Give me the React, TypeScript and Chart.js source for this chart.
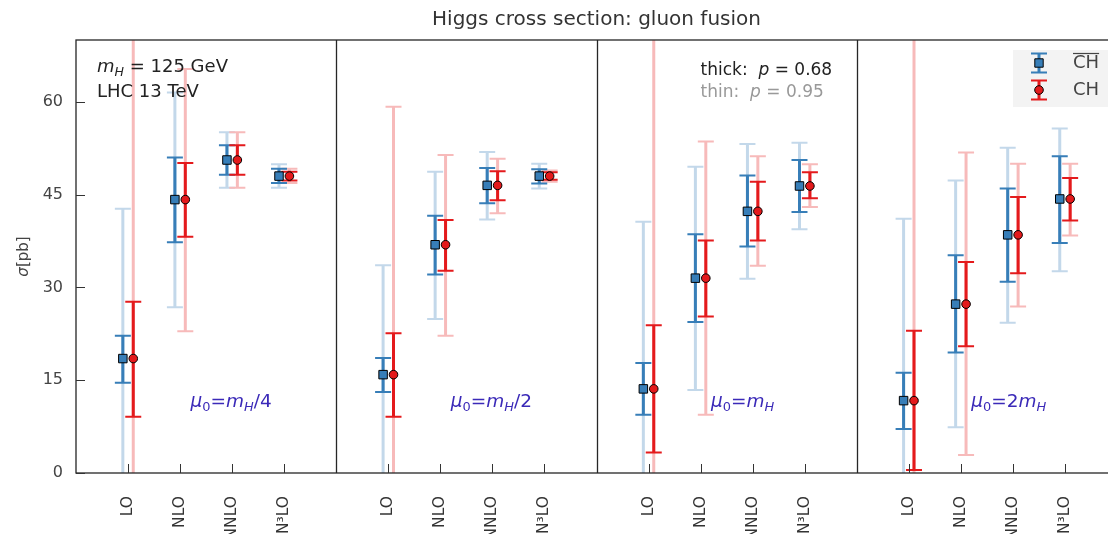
import React, { useEffect, useRef } from "react";
import { Chart, registerables } from "chart.js";
Chart.register(...registerables);

// ---------------- data ----------------
const categories = ["LO", "NLO", "NNLO", "N³LO"];
const yTicks = [0, 15, 30, 45, 60];
// scale choice per panel: μ0 = coef · mH suffix
const muCoef = ["", "", "", "2"];
const muSuffix = ["/4", "/2", "", ""];

// central values (same for both methods)
const central = [
  [18.5, 44.2, 50.6, 48.0],
  [15.9, 36.9, 46.5, 48.0],
  [13.6, 31.5, 42.3, 46.4],
  [11.7, 27.3, 38.5, 44.3],
];
// CH-bar (blue): 68% (thick) and 95% (thin) intervals
const chbar68Lo = [[14.6, 37.3, 48.2, 46.9], [13.1, 32.1, 43.6, 46.8], [9.4, 24.4, 36.6, 42.2], [7.1, 19.5, 30.9, 37.2]];
const chbar68Hi = [[22.2, 51.0, 53.0, 49.2], [18.6, 41.6, 49.3, 49.1], [17.8, 38.6, 48.1, 50.6], [16.2, 35.2, 46.0, 51.2]];
const chbar95Lo = [[-5.7, 26.8, 46.1, 46.1], [-1.8, 24.9, 41.0, 46.0], [-13.4, 13.4, 31.4, 39.4], [-17.7, 7.4, 24.3, 32.6]];
const chbar95Hi = [[42.7, 61.5, 55.1, 49.9], [33.6, 48.7, 51.9, 50.0], [40.6, 49.5, 53.2, 53.4], [41.1, 47.3, 52.6, 55.7]];
// CH (red)
const ch68Lo = [[9.1, 38.2, 48.2, 47.3], [9.1, 32.7, 44.1, 47.4], [3.3, 25.3, 37.6, 44.4], [0.5, 20.5, 32.3, 40.8]];
const ch68Hi = [[27.7, 50.1, 53.0, 48.7], [22.6, 40.9, 48.8, 48.6], [23.9, 37.6, 47.1, 48.6], [23.0, 34.1, 44.6, 47.7]];
const ch95Lo = [[-45, 22.9, 46.1, 46.9], [-27, 22.2, 42.0, 47.1], [-50, 9.4, 33.5, 43.0], [-50, 2.9, 26.9, 38.4]];
const ch95Hi = [[82, 65.3, 55.1, 49.2], [59.2, 51.4, 50.8, 48.9], [77, 53.6, 51.2, 49.9], [73, 51.8, 50.0, 50.0]];

// ---------------- styling ----------------
const FONT = "'DejaVu Sans', sans-serif";
const BLUE = "#377eb8";
const RED = "#e41a1c";
const BLUE_L = "#c3d8ea";
const RED_L = "#f7baba";
const MU_COLOR = "#3b2ab8";
const PANEL_W = 5;
const OFF = 0.1;

const xPos = (p: number, i: number, d: number) => p * PANEL_W + i + 1 + d;

type Seg = { t: string; it?: boolean; sub?: boolean };
function drawRich(ctx: CanvasRenderingContext2D, segs: Seg[], x: number, y: number, size: number, color: string, measureOnly = false) {
  let cx = x;
  for (const s of segs) {
    const fs = s.sub ? size * 0.7 : size;
    ctx.font = `${s.it ? "italic " : ""}${fs}px ${FONT}`;
    if (!measureOnly) {
      ctx.fillStyle = color;
      ctx.fillText(s.t, cx, s.sub ? y + size * 0.22 : y);
    }
    cx += ctx.measureText(s.t).width;
  }
  return cx - x;
}

const panelPlugin = {
  id: "panels",
  beforeDatasetsDraw(chart: any) {
    const { ctx, chartArea: a, scales } = chart;
    const x = scales.x, y = scales.y;
    ctx.save();
    ctx.beginPath();
    ctx.rect(a.left, a.top, a.right - a.left, a.bottom - a.top);
    ctx.clip();
    const bar = (xv: number, lo: number, hi: number, color: string) => {
      const px = x.getPixelForValue(xv);
      const p1 = y.getPixelForValue(lo);
      const p2 = y.getPixelForValue(hi);
      ctx.strokeStyle = color;
      ctx.lineWidth = 3;
      ctx.beginPath();
      ctx.moveTo(px, p1);
      ctx.lineTo(px, p2);
      ctx.stroke();
      ctx.lineWidth = 2;
      ctx.beginPath();
      ctx.moveTo(px - 8, p1); ctx.lineTo(px + 8, p1);
      ctx.moveTo(px - 8, p2); ctx.lineTo(px + 8, p2);
      ctx.stroke();
    };
    for (let p = 0; p < central.length; p++) {
      for (let i = 0; i < categories.length; i++) {
        bar(xPos(p, i, -OFF), chbar95Lo[p][i], chbar95Hi[p][i], BLUE_L);
        bar(xPos(p, i, OFF), ch95Lo[p][i], ch95Hi[p][i], RED_L);
      }
    }
    for (let p = 0; p < central.length; p++) {
      for (let i = 0; i < categories.length; i++) {
        bar(xPos(p, i, -OFF), chbar68Lo[p][i], chbar68Hi[p][i], BLUE);
        bar(xPos(p, i, OFF), ch68Lo[p][i], ch68Hi[p][i], RED);
      }
    }
    ctx.restore();
  },
  afterDraw(chart: any) {
    const { ctx, chartArea: a, scales } = chart;
    const x = scales.x, y = scales.y;
    ctx.save();
    // frame and panel separators
    ctx.strokeStyle = "#262626";
    ctx.lineWidth = 1.3;
    ctx.strokeRect(a.left, a.top, a.right - a.left, a.bottom - a.top);
    ctx.beginPath();
    for (let p = 1; p < central.length; p++) {
      const px = Math.round(x.getPixelForValue(p * PANEL_W)) + 0.5;
      ctx.moveTo(px, a.top);
      ctx.lineTo(px, a.bottom);
    }
    ctx.stroke();
    // inward ticks
    ctx.lineWidth = 1;
    ctx.strokeStyle = "#333";
    ctx.beginPath();
    for (const t of yTicks) {
      const py = Math.round(y.getPixelForValue(t)) + 0.5;
      ctx.moveTo(a.left, py); ctx.lineTo(a.left + 9, py);
      ctx.moveTo(a.right, py); ctx.lineTo(a.right - 9, py);
    }
    for (let p = 0; p < central.length; p++) {
      for (let i = 0; i < categories.length; i++) {
        const px = Math.round(x.getPixelForValue(xPos(p, i, 0))) + 0.5;
        ctx.moveTo(px, a.bottom); ctx.lineTo(px, a.bottom - 9);
      }
    }
    ctx.stroke();

    // y-axis title
    ctx.save();
    ctx.translate(24, (a.top + a.bottom) / 2);
    ctx.rotate(-Math.PI / 2);
    ctx.textBaseline = "middle";
    const ysegs: Seg[] = [{ t: "σ", it: true }, { t: "[pb]" }];
    const w = drawRich(ctx, ysegs, 0, 0, 15, "#444", true);
    drawRich(ctx, ysegs, -w / 2, 0, 15, "#444");
    ctx.restore();

    ctx.textBaseline = "alphabetic";
    // annotations panel 1
    drawRich(ctx, [{ t: "m", it: true }, { t: "H", it: true, sub: true }, { t: " = 125 GeV" }], a.left + 21, a.top + 32, 18, "#222");
    drawRich(ctx, [{ t: "LHC 13 TeV" }], a.left + 21, a.top + 57, 18, "#222");
    // p annotations (panel 3)
    const tx = x.getPixelForValue(2 * PANEL_W + 2.0);
    drawRich(ctx, [{ t: "thick:  " }, { t: "p", it: true }, { t: " = 0.68" }], tx, a.top + 35, 17, "#222");
    drawRich(ctx, [{ t: "thin:  " }, { t: "p", it: true }, { t: " = 0.95" }], tx, a.top + 57, 17, "#999");
    // scale labels
    for (let p = 0; p < central.length; p++) {
      const mx = x.getPixelForValue(p * PANEL_W + 2.2);
      const my = y.getPixelForValue(10.7);
      drawRich(ctx, [
        { t: "μ", it: true }, { t: "0", sub: true }, { t: "=" }, { t: muCoef[p] },
        { t: "m", it: true }, { t: "H", it: true, sub: true }, { t: muSuffix[p] },
      ], mx, my, 18.5, MU_COLOR);
    }

    // legend
    const lx = a.right - 104, ly = a.top + 10;
    ctx.fillStyle = "#f3f3f3";
    ctx.fillRect(lx, ly, 130, 57);
    const items = [
      { c: BLUE, y: ly + 13, shape: "rect", over: true },
      { c: RED, y: ly + 40, shape: "circle", over: false },
    ];
    for (const it of items) {
      const ix = lx + 26;
      ctx.strokeStyle = it.c;
      ctx.lineWidth = 3;
      ctx.beginPath(); ctx.moveTo(ix, it.y - 9.5); ctx.lineTo(ix, it.y + 9.5); ctx.stroke();
      ctx.lineWidth = 2;
      ctx.beginPath();
      ctx.moveTo(ix - 8, it.y - 9.5); ctx.lineTo(ix + 8, it.y - 9.5);
      ctx.moveTo(ix - 8, it.y + 9.5); ctx.lineTo(ix + 8, it.y + 9.5);
      ctx.stroke();
      ctx.fillStyle = it.c;
      ctx.strokeStyle = "#000";
      ctx.lineWidth = 1;
      ctx.beginPath();
      if (it.shape === "rect") ctx.rect(ix - 4.2, it.y - 4.2, 8.4, 8.4);
      else ctx.arc(ix, it.y, 4.3, 0, Math.PI * 2);
      ctx.fill(); ctx.stroke();
      ctx.font = `18px ${FONT}`;
      ctx.fillStyle = "#444";
      ctx.textBaseline = "middle";
      ctx.fillText("CH", lx + 60, it.y);
      if (it.over) {
        const tw = ctx.measureText("CH").width;
        ctx.strokeStyle = "#444";
        ctx.lineWidth = 1.2;
        ctx.beginPath(); ctx.moveTo(lx + 60, it.y - 9.5); ctx.lineTo(lx + 60 + tw, it.y - 9.5); ctx.stroke();
      }
    }
    ctx.restore();
  },
};

export default function App() {
  const ref = useRef<HTMLCanvasElement | null>(null);
  useEffect(() => {
    if (!ref.current) return;
    const blueData: { x: number; y: number }[] = [];
    const redData: { x: number; y: number }[] = [];
    for (let p = 0; p < central.length; p++) {
      for (let i = 0; i < categories.length; i++) {
        blueData.push({ x: xPos(p, i, -OFF), y: central[p][i] });
        redData.push({ x: xPos(p, i, OFF), y: central[p][i] });
      }
    }
    const tickVals: number[] = [];
    for (let p = 0; p < central.length; p++) for (let i = 0; i < categories.length; i++) tickVals.push(xPos(p, i, 0));

    const chart = new Chart(ref.current, {
      type: "scatter",
      data: {
        datasets: [
          { label: "CH-bar", data: blueData, pointStyle: "rect", pointRadius: 6, backgroundColor: BLUE, borderColor: "#000", borderWidth: 1 },
          { label: "CH", data: redData, pointStyle: "circle", pointRadius: 4.3, backgroundColor: RED, borderColor: "#000", borderWidth: 1 },
        ],
      },
      options: {
        animation: false,
        responsive: false,
        events: [],
        layout: { padding: { left: 0, right: 10, top: 0, bottom: 0 } },
        plugins: {
          legend: { display: false },
          tooltip: { enabled: false },
          title: {
            display: true,
            text: "Higgs cross section: gluon fusion",
            color: "#333",
            font: { family: FONT, size: 20, weight: "normal" },
            padding: { top: 8, bottom: 8 },
            fullSize: false,
          },
        },
        scales: {
          x: {
            type: "linear",
            min: 0,
            max: central.length * PANEL_W,
            grid: { display: false },
            border: { display: false },
            afterBuildTicks: (s: any) => { s.ticks = tickVals.map((v) => ({ value: v })); },
            afterFit: (s: any) => { s.height = 87; },
            ticks: {
              autoSkip: false,
              minRotation: 90,
              maxRotation: 90,
              padding: 15,
              color: "#333",
              font: { family: FONT, size: 15.5 },
              callback: (v: any) => categories[(Math.round(v) % PANEL_W) - 1] ?? "",
            },
          },
          y: {
            min: 0,
            max: 70,
            grid: { display: false },
            border: { display: false },
            afterBuildTicks: (s: any) => { s.ticks = yTicks.map((v) => ({ value: v })); },
            afterFit: (s: any) => { s.width = 76; },
            ticks: { padding: 5, color: "#444", font: { family: FONT, size: 16 } },
          },
        },
      } as any,
      plugins: [panelPlugin],
    });
    return () => chart.destroy();
  }, []);
  return (
    <div style={{ position: "absolute", left: 0, top: 0, width: 1108, height: 534, overflow: "hidden", background: "#fff" }}>
      <canvas ref={ref} width={1127} height={560} style={{ display: "block" }} />
    </div>
  );
}
